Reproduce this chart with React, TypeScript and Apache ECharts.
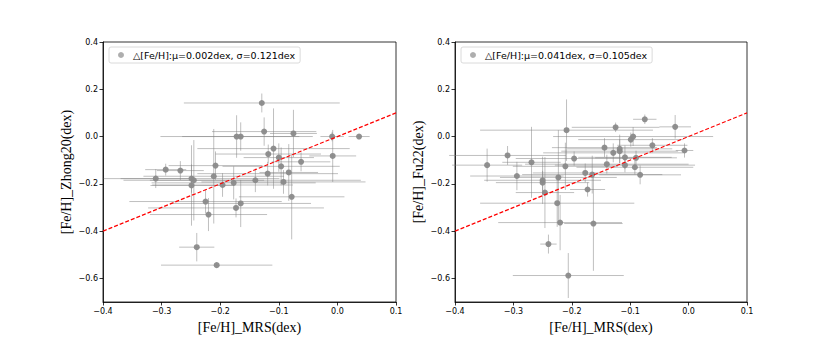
import React, { useEffect, useRef } from "react";
import * as echarts from "echarts";

// [x, y, xerr, yerr]
const leftData: number[][] = [
  [-0.310, -0.178, 0.06, 0.04],
  [-0.293, -0.140, 0.035, 0.025],
  [-0.268, -0.144, 0.04, 0.04],
  [-0.249, -0.178, 0.15, 0.06],
  [-0.245, -0.185, 0.12, 0.17],
  [-0.249, -0.207, 0.07, 0.17],
  [-0.240, -0.468, 0.03, 0.06],
  [-0.225, -0.275, 0.13, 0.05],
  [-0.220, -0.330, 0.1, 0.07],
  [-0.211, -0.168, 0.12, 0.2],
  [-0.208, -0.123, 0.08, 0.06],
  [-0.206, -0.544, 0.095, 0.01],
  [-0.196, -0.205, 0.12, 0.05],
  [-0.177, -0.196, 0.14, 0.07],
  [-0.173, -0.302, 0.15, 0.04],
  [-0.172, 0.0, 0.13, 0.09],
  [-0.165, 0.0, 0.1, 0.06],
  [-0.165, -0.283, 0.12, 0.1],
  [-0.140, -0.185, 0.18, 0.05],
  [-0.129, 0.142, 0.133, 0.04],
  [-0.125, 0.021, 0.089, 0.06],
  [-0.119, -0.157, 0.12, 0.05],
  [-0.118, -0.074, 0.09, 0.04],
  [-0.109, -0.051, 0.13, 0.17],
  [-0.100, -0.089, 0.06, 0.06],
  [-0.096, -0.126, 0.1, 0.08],
  [-0.092, -0.192, 0.14, 0.05],
  [-0.083, -0.152, 0.05, 0.12],
  [-0.078, -0.255, 0.09, 0.18],
  [-0.075, 0.013, 0.04, 0.1],
  [-0.062, -0.107, 0.05, 0.04],
  [-0.009, 0.0, 0.02, 0.02],
  [-0.008, -0.082, 0.04, 0.11],
  [0.037, 0.0, 0.018, 0.01],
];

const rightData: number[][] = [
  [-0.345, -0.121, 0.06, 0.07],
  [-0.310, -0.080, 0.1, 0.04],
  [-0.294, -0.167, 0.08, 0.06],
  [-0.269, -0.109, 0.05, 0.15],
  [-0.250, -0.185, 0.1, 0.1],
  [-0.250, -0.195, 0.08, 0.05],
  [-0.246, -0.237, 0.05, 0.15],
  [-0.240, -0.455, 0.014, 0.04],
  [-0.225, -0.282, 0.132, 0.1],
  [-0.223, -0.173, 0.1, 0.2],
  [-0.220, -0.364, 0.106, 0.117],
  [-0.211, -0.126, 0.09, 0.1],
  [-0.209, 0.027, 0.148, 0.13],
  [-0.206, -0.588, 0.095, 0.095],
  [-0.196, -0.093, 0.1, 0.03],
  [-0.177, -0.154, 0.09, 0.04],
  [-0.173, -0.224, 0.03, 0.03],
  [-0.165, -0.161, 0.12, 0.08],
  [-0.163, -0.368, 0.05, 0.2],
  [-0.144, -0.047, 0.09, 0.04],
  [-0.140, -0.117, 0.14, 0.04],
  [-0.129, -0.069, 0.12, 0.04],
  [-0.125, 0.039, 0.075, 0.02],
  [-0.118, -0.052, 0.09, 0.06],
  [-0.118, -0.062, 0.1, 0.05],
  [-0.109, -0.088, 0.08, 0.05],
  [-0.109, -0.121, 0.12, 0.03],
  [-0.099, -0.013, 0.09, 0.03],
  [-0.095, 0.0, 0.137, 0.04],
  [-0.092, -0.130, 0.1, 0.03],
  [-0.090, -0.090, 0.07, 0.03],
  [-0.083, -0.162, 0.07, 0.04],
  [-0.075, 0.073, 0.02, 0.02],
  [-0.062, -0.037, 0.06, 0.03],
  [-0.023, 0.041, 0.027, 0.05],
  [-0.007, -0.059, 0.015, 0.03],
];

const xTicks = [-0.4, -0.3, -0.2, -0.1, 0.0, 0.1];
const yTicks = [-0.6, -0.4, -0.2, 0.0, 0.2, 0.4];
const oneToOne = [[-0.4, -0.4], [0.1, 0.1]];

const leftLegend = "△[Fe/H]:μ=0.002dex, σ=0.121dex";
const rightLegend = "△[Fe/H]:μ=0.041dex, σ=0.105dex";
const xName = "[Fe/H]_MRS(dex)";
const leftYName = "[Fe/H]_Zhong20(dex)";
const rightYName = "[Fe/H]_Fu22(dex)";

const fmt = (v: number) => {
  const s = (Math.round(v * 10) / 10).toFixed(1);
  return s === "-0.0" ? "0.0" : s.replace("-", "\u2212");
};

export default function App() {
  const ref = useRef<HTMLDivElement>(null);
  useEffect(() => {
    if (!ref.current) return;
    const chart = echarts.init(ref.current, undefined, { renderer: "svg" });

    const grids = [
      { left: 103, top: 42, width: 293, height: 260 },
      { left: 455, top: 42, width: 292, height: 260 },
    ];

    const mkX = (i: number) => ({
      type: "value",
      gridIndex: i,
      min: -0.4,
      max: 0.1,
      name: xName,
      nameLocation: "middle",
      nameGap: 18,
      nameTextStyle: { fontFamily: "Liberation Serif", fontSize: 14, color: "#000" },
      axisLine: { show: true, onZero: false, lineStyle: { color: "#000", width: 0.8 } },
      axisTick: { show: true, inside: false, length: 3.5, customValues: xTicks, lineStyle: { color: "#000", width: 0.8 } },
      axisLabel: { customValues: xTicks, formatter: fmt, fontFamily: "DejaVu Sans", fontSize: 8, color: "#000", margin: 5 },
      splitLine: { show: false },
    });
    const mkY = (i: number, name: string) => ({
      type: "value",
      gridIndex: i,
      min: -0.7,
      max: 0.4,
      name,
      nameLocation: "middle",
      nameGap: 30,
      nameRotate: 90,
      nameTextStyle: { fontFamily: "Liberation Serif", fontSize: 14, color: "#000" },
      axisLine: { show: true, onZero: false, lineStyle: { color: "#000", width: 0.8 } },
      axisTick: { show: true, inside: false, length: 3.5, customValues: yTicks, lineStyle: { color: "#000", width: 0.8 } },
      axisLabel: { customValues: yTicks, formatter: fmt, fontFamily: "DejaVu Sans", fontSize: 8, color: "#000", margin: 5 },
      splitLine: { show: false },
    });

    const errSeries = (i: number, data: number[][]) => ({
      type: "custom",
      xAxisIndex: i,
      yAxisIndex: i,
      data,
      silent: true,
      z: 1,
      renderItem: (_p: any, api: any) => {
        const x = api.value(0), y = api.value(1), xe = api.value(2), ye = api.value(3);
        const a = api.coord([x - xe, y]);
        const b = api.coord([x + xe, y]);
        const c = api.coord([x, y - ye]);
        const d = api.coord([x, y + ye]);
        const style = { stroke: "rgba(128,128,128,0.5)", lineWidth: 1 };
        return {
          type: "group",
          children: [
            { type: "line", shape: { x1: a[0], y1: a[1], x2: b[0], y2: b[1] }, style },
            { type: "line", shape: { x1: c[0], y1: c[1], x2: d[0], y2: d[1] }, style },
          ],
        };
      },
    });

    const ptSeries = (i: number, name: string, data: number[][]) => ({
      type: "scatter",
      name,
      xAxisIndex: i,
      yAxisIndex: i,
      data: data.map((d) => [d[0], d[1]]),
      symbol: "circle",
      symbolSize: 6,
      itemStyle: { color: "#8a8a8a", opacity: 0.95 },
      z: 3,
    });

    const lineSeries = (i: number) => ({
      type: "line",
      xAxisIndex: i,
      yAxisIndex: i,
      data: oneToOne,
      symbol: "none",
      lineStyle: { color: "#ff0000", type: [4, 2], width: 1.2 },
      z: 4,
      silent: true,
    });

    const legend = (left: number, name: string) => ({
      data: [name],
      left,
      top: 47,
      orient: "horizontal",
      icon: "circle",
      itemWidth: 6,
      itemHeight: 6,
      itemGap: 5,
      padding: [3, 5, 3, 9],
      borderColor: "#d0d0d0",
      borderWidth: 0.8,
      borderRadius: 2,
      backgroundColor: "#fff",
      selectedMode: false,
      textStyle: { fontFamily: "DejaVu Sans", fontSize: 9.5, color: "#000", padding: [0, 0, 0, 4] },
      itemStyle: { color: "#aaaaaa" },
    });

    chart.setOption({
      animation: false,
      backgroundColor: "#fff",
      grid: grids.map((g) => ({ ...g, show: true, borderColor: "#000", borderWidth: 0.8, backgroundColor: "transparent" })),
      xAxis: [mkX(0), mkX(1)],
      yAxis: [mkY(0, leftYName), mkY(1, rightYName)],
      legend: [legend(109, leftLegend), legend(461, rightLegend)],
      series: [
        errSeries(0, leftData),
        ptSeries(0, leftLegend, leftData),
        lineSeries(0),
        errSeries(1, rightData),
        ptSeries(1, rightLegend, rightData),
        lineSeries(1),
      ],
    });
    return () => chart.dispose();
  }, []);
  return <div ref={ref} style={{ width: 830, height: 346, margin: -8 }} />;
}
